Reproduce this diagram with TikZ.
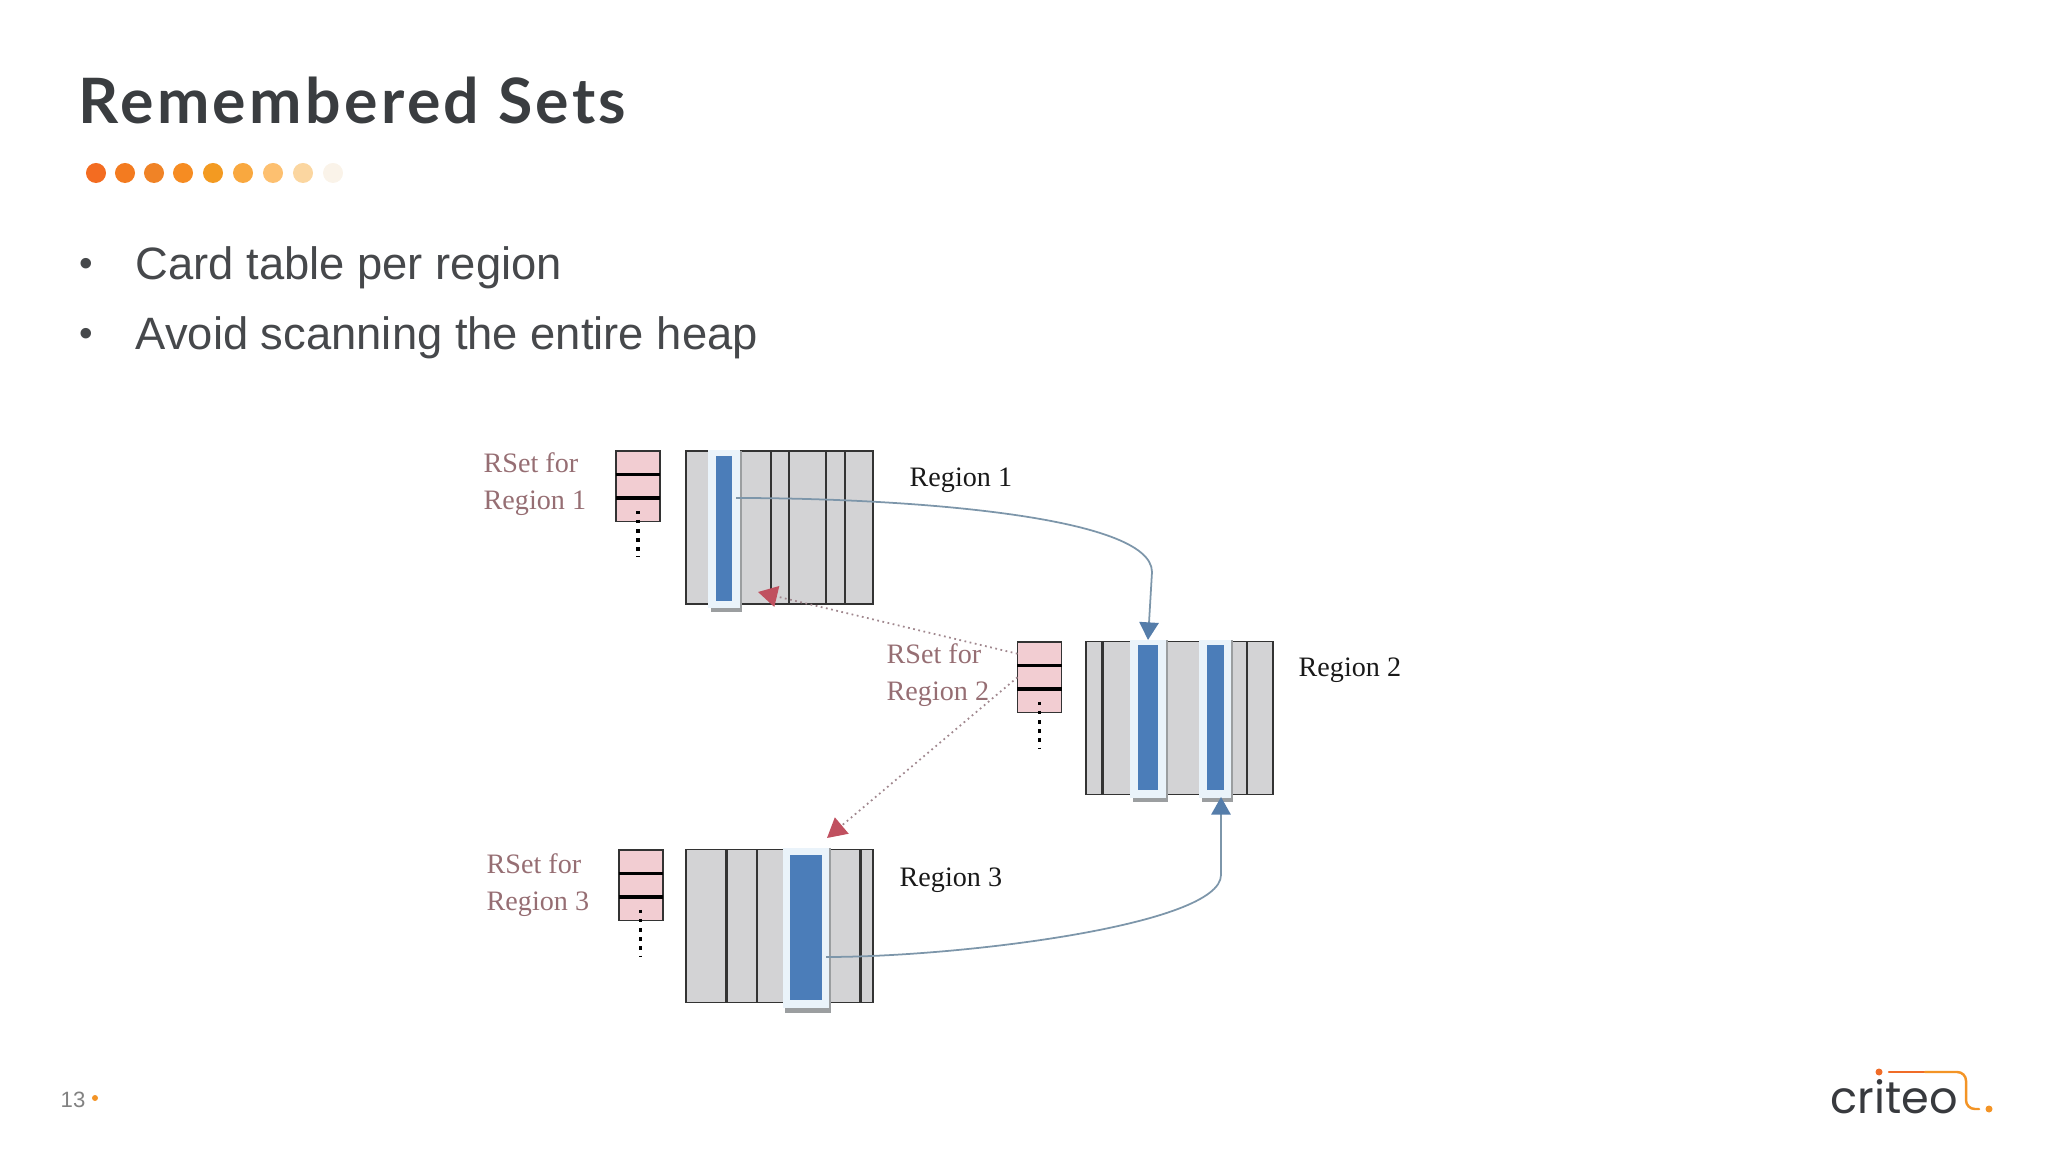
\documentclass[tikz,border=0pt]{standalone}
\usepackage{fontspec}
\setmainfont{Liberation Sans}
\newfontfamily\titlefont[LetterSpace=5.4]{Lato}
\newfontfamily\logofont{Poppins}
\newfontfamily\labelfont{Liberation Serif}
\usetikzlibrary{arrows.meta, positioning, calc}
\definecolor{slatetext}{RGB}{58,61,64}
\definecolor{bodytext}{RGB}{70,72,75}
\definecolor{pagegray}{RGB}{130,130,130}
\definecolor{regiongray}{RGB}{211,211,213}
\definecolor{cardblue}{RGB}{75,125,185}
\definecolor{cardglow}{RGB}{234,243,250}
\definecolor{cardshade}{RGB}{155,158,160}
\definecolor{rsetpink}{RGB}{242,205,210}
\definecolor{rsettext}{RGB}{150,110,115}
\definecolor{linkblue}{RGB}{125,150,170}
\definecolor{tipblue}{RGB}{85,125,170}
\definecolor{linkred}{RGB}{160,135,142}
\definecolor{tipred}{RGB}{192,80,95}
\definecolor{logodark}{RGB}{56,58,62}
\definecolor{logoone}{RGB}{240,108,40}
\definecolor{logotwo}{RGB}{243,148,38}

\begin{document}
\begin{tikzpicture}[
    x=0.01cm, y=-0.01cm,
    flat/.style={rectangle, inner sep=0pt, outer sep=0pt},
    regionbox/.style={flat, draw=black!80, line width=0.5pt, fill=regiongray, minimum width=1.87cm, minimum height=1.53cm},
    glow/.style={flat, fill=cardglow},
    shade/.style={flat, fill=cardshade},
    bar/.style={flat, fill=cardblue},
    cell/.style={flat, draw=black!80, line width=0.5pt, fill=rsetpink, minimum width=0.44cm, minimum height=0.235cm},
    rsetlabel/.style={anchor=west, align=left, inner sep=0pt, text=rsettext, font=\labelfont\fontsize{8}{10.4}\selectfont},
    regionlabel/.style={anchor=base west, inner sep=0pt, text=black!90, font=\labelfont\fontsize{8}{10}\selectfont},
    bullet/.style={anchor=base west, inner sep=0pt, text=bodytext, font=\fontsize{12.9}{15}\selectfont},
    orangedot/.style={circle, inner sep=0pt, minimum size=0.2cm},
    cardline/.style={draw=black!80, line width=0.7pt},
    dotline/.style={draw=black, line width=1pt, dash pattern=on 1pt off 1.6pt},
    writelink/.style={-{Stealth[length=5pt, width=5.5pt, inset=0pt, color=tipblue]}, draw=linkblue, line width=0.5pt},
    rsetlink/.style={-{Stealth[length=5.5pt, width=6pt, inset=0pt, color=tipred]}, draw=linkred, line width=0.5pt, densely dotted}
]
\useasboundingbox (0,0) rectangle (2048,1152);

% Title
\node[anchor=base west, inner sep=0pt, text=slatetext, font=\titlefont\bfseries\fontsize{17.8}{22}\selectfont] (title) at (78,124) {Remembered Sets};

% Dots under the title
\foreach \x/\c [count=\i] in {96/F36C21, 125/F37B20, 154/F08326, 183/F68C22, 213/F39A21, 243/F9A83F, 273/FDC070, 303/FBD6A0, 333/FAF3E9} {
    \definecolor{dotcolor}{HTML}{\c}
    \node[orangedot, fill=dotcolor] (dot\i) at (\x,173) {};
}

% Bullets
\node[bullet, font=\fontsize{11}{13}\selectfont] (bulleta) at (78.5,276.5) {•};
\node[bullet, font=\fontsize{11}{13}\selectfont] (bulletb) at (78.5,346.5) {•};
\node[bullet] (carda) at (135,280) {Card table per region};
\node[bullet] (cardb) at (135,350) {Avoid scanning the entire heap};

% Region 1
\node[regionbox] (region1) at (779.5,527.5) {};
\foreach \x in {771,789,826,845} \draw[cardline] (\x,451) -- (\x,604);
\node[shade, minimum width=0.31cm, minimum height=1.61cm] (shade1) at (726.5,531.5) {};
\node[glow, minimum width=0.32cm, minimum height=1.58cm] (glow1) at (724,529) {};
\node[bar, minimum width=0.16cm, minimum height=1.45cm] (bar1) at (724,528.5) {};

% Region 2
\node[regionbox] (region2) at (1179.5,718) {};
\foreach \x in {1102.5,1247} \draw[cardline] (\x,642) -- (\x,794);
\node[shade, minimum width=0.35cm, minimum height=1.62cm] (shade2a) at (1150.5,721) {};
\node[glow, minimum width=0.36cm, minimum height=1.58cm] (glow2a) at (1148,719) {};
\node[bar, minimum width=0.20cm, minimum height=1.45cm] (bar2a) at (1148,717.5) {};
\node[shade, minimum width=0.31cm, minimum height=1.62cm] (shade2b) at (1217.5,721) {};
\node[glow, minimum width=0.32cm, minimum height=1.58cm] (glow2b) at (1215,719) {};
\node[bar, minimum width=0.165cm, minimum height=1.45cm] (bar2b) at (1215.5,717.5) {};

% Region 3
\node[regionbox] (region3) at (779.5,926) {};
\foreach \x in {726.5,757,860.5} \draw[cardline] (\x,850) -- (\x,1002);
\node[shade, minimum width=0.46cm, minimum height=1.65cm] (shade3) at (808,930.5) {};
\node[glow, minimum width=0.46cm, minimum height=1.60cm] (glow3) at (806,928) {};
\node[bar, minimum width=0.32cm, minimum height=1.45cm] (bar3) at (805.7,927.5) {};

% RSet columns
\foreach \n/\x/\y in {1/638/451, 2/1039.5/642, 3/640.7/850} {
    \node[cell, anchor=north] (rset\n a) at (\x,\y) {};
    \node[cell, below=0pt of rset\n a] (rset\n b) {};
    \node[cell, below=0pt of rset\n b] (rset\n c) {};
    \draw[line width=1.1pt, black] (rset\n a.south west) -- (rset\n a.south east);
    \draw[line width=1.1pt, black] (rset\n b.south west) -- (rset\n b.south east);
    \coordinate (more\n) at ($(rset\n c.center)+(0,47)$);
    \coordinate (from\n) at ($(rset\n c.center)+(0,1)$);
    \draw[dotline] (from\n) -- (more\n);
}

% Labels
\node[rsetlabel] (label1) at (483,484) {RSet for\\Region 1};
\node[rsetlabel] (label2) at (886,675) {RSet for\\Region 2};
\node[rsetlabel] (label3) at (486,885) {RSet for\\Region 3};
\node[regionlabel] (name1) at (909,487) {Region 1};
\node[regionlabel] (name2) at (1298,676) {Region 2};
\node[regionlabel] (name3) at (899,886) {Region 3};

% Arrows
\coordinate (writea) at (736,498);
\coordinate (writeb) at (826,957);
\coordinate (intob) at (1221,797);
\coordinate (cardhit) at (758,592);
\coordinate (regionhit) at (827,838);
\draw[writelink] (writea) .. controls (900,498) and (1152,515) .. (1152,572) -- (glow2a.north);
\draw[writelink] (writeb) .. controls (960,957) and (1221,925) .. (1221,875) -- (intob);
\draw[rsetlink] (rset2a.west) -- (cardhit);
\draw[rsetlink] (rset2b.west) -- (regionhit);

% Page number
\node[anchor=base west, inner sep=0pt, text=pagegray, font=\fontsize{6.3}{8}\selectfont] (page) at (60,1107) {13};
\node[circle, inner sep=0pt, minimum size=0.06cm, fill=logotwo] (pagedot) at (95,1098) {};

% Logo
\node[anchor=base west, inner sep=0pt, text=logodark, font=\logofont\fontsize{12.7}{16}\selectfont] (logo) at (1830,1113) {criteo};
\node[circle, inner sep=0pt, minimum size=0.07cm, fill=logoone] (logodota) at (1879,1072) {};
\node[circle, inner sep=0pt, minimum size=0.07cm, fill=logotwo] (logodotb) at (1989,1109) {};
\coordinate (logostart) at (1889,1072);
\coordinate (logomid) at (1966,1072);
\coordinate (logoend) at (1979,1109);
\draw[logoone, line width=0.7pt, line cap=round] (logostart) -- (1925,1072);
\draw[logotwo, line width=0.7pt, line cap=round, rounded corners=2.5pt] (1925,1072) -- (logomid) -- (logomid |- logoend) -- (logoend);

\end{tikzpicture}
\end{document}
